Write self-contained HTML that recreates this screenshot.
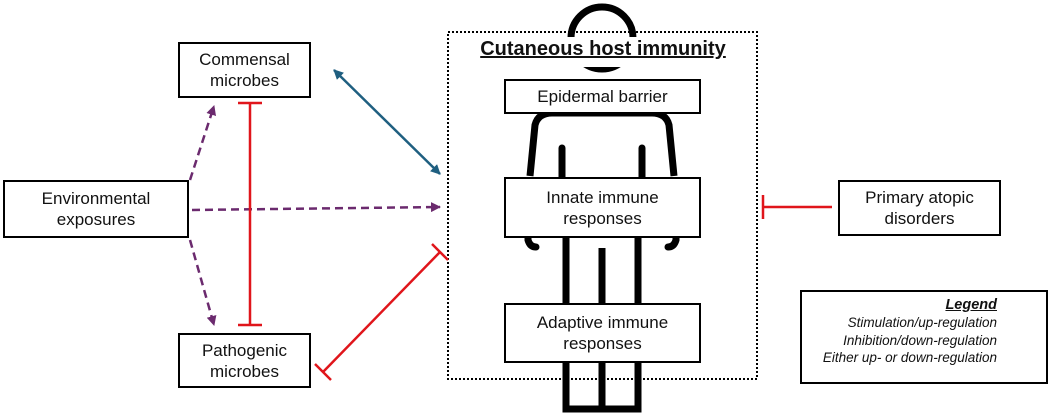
<!DOCTYPE html>
<html><head><style>
body{margin:0;width:1049px;height:417px;background:#fff;font-family:"Liberation Sans",sans-serif;position:relative;overflow:hidden}
.b{position:absolute;border:2.5px solid #000;background:#fff;box-sizing:border-box;display:flex;align-items:center;justify-content:center;text-align:center;font-size:17px;line-height:21px;color:#111}
</style></head><body>
<svg width="1049" height="417" style="position:absolute;left:0;top:0">
<defs>
<marker id="bl" markerWidth="10" markerHeight="10" refX="9" refY="5" orient="auto-start-reverse" markerUnits="userSpaceOnUse"><path d="M0,0L10,5L0,10z" fill="#1f5f80"/></marker>
<marker id="pu" markerWidth="10" markerHeight="10" refX="9" refY="5" orient="auto" markerUnits="userSpaceOnUse"><path d="M0,0L10,5L0,10z" fill="#6b2a6e"/></marker>
</defs>
<circle cx="602" cy="38" r="31" fill="none" stroke="#000" stroke-width="7"/>
<path d="M530,176 L535,125 Q538,113 552,113 L652,113 Q666,113 669,125 L674,176" fill="none" stroke="#000" stroke-width="7"/>
<path d="M528,237 L528,240 Q530,247 536,247 M676,237 L676,240 Q674,247 668,247" fill="none" stroke="#000" stroke-width="7" stroke-linecap="round"/>
<line x1="562" y1="148" x2="562" y2="177" stroke="#000" stroke-width="7" stroke-linecap="round"/>
<line x1="642" y1="148" x2="642" y2="177" stroke="#000" stroke-width="7" stroke-linecap="round"/>
<path d="M566,237 L566,409 L638,409 L638,237" fill="none" stroke="#000" stroke-width="7"/>
<line x1="602" y1="248" x2="602" y2="409" stroke="#000" stroke-width="7"/>
<rect x="448" y="32" width="309" height="347" fill="none" stroke="#000" stroke-width="2" stroke-dasharray="2,2"/>
<rect x="463" y="37" width="280" height="30" fill="#fff"/>
<line x1="334" y1="70" x2="440" y2="174" stroke="#1f5f80" stroke-width="2.5" marker-start="url(#bl)" marker-end="url(#bl)"/>
<line x1="192" y1="210" x2="440" y2="207" stroke="#6b2a6e" stroke-width="2.5" stroke-dasharray="8,5" marker-end="url(#pu)"/>
<line x1="190" y1="180" x2="214" y2="106" stroke="#6b2a6e" stroke-width="2.5" stroke-dasharray="8,5" marker-end="url(#pu)"/>
<line x1="190" y1="240" x2="214" y2="325" stroke="#6b2a6e" stroke-width="2.5" stroke-dasharray="8,5" marker-end="url(#pu)"/>
<g stroke="#e0151b" stroke-width="2.5">
<line x1="250" y1="103" x2="250" y2="325"/><line x1="238" y1="103" x2="262" y2="103"/><line x1="238" y1="325" x2="262" y2="325"/>
<line x1="323" y1="372" x2="440" y2="252"/><line x1="315" y1="364" x2="331" y2="380"/><line x1="432" y1="244" x2="448" y2="260"/>
<line x1="832" y1="207" x2="763" y2="207"/><line x1="763" y1="195" x2="763" y2="219"/>
<line x1="1003" y1="341" x2="1030" y2="341"/><line x1="1030" y1="332" x2="1030" y2="350"/>
</g>
<line x1="1003" y1="323" x2="1030" y2="323" stroke="#1f5f80" stroke-width="2" marker-end="url(#bl)"/>
<line x1="1003" y1="357" x2="1030" y2="357" stroke="#6b2a6e" stroke-width="2" stroke-dasharray="5,3" marker-end="url(#pu)"/>
</svg>
<div style="position:absolute;left:463px;top:38px;width:280px;text-align:center;font-weight:bold;font-size:20px;text-decoration:underline;color:#111">Cutaneous host immunity</div>
<div class="b" style="left:504px;top:79px;width:197px;height:35px">Epidermal barrier</div>
<div class="b" style="left:504px;top:177px;width:197px;height:61px">Innate immune<br>responses</div>
<div class="b" style="left:504px;top:303px;width:197px;height:60px">Adaptive immune<br>responses</div>
<div class="b" style="left:178px;top:42px;width:133px;height:56px">Commensal<br>microbes</div>
<div class="b" style="left:3px;top:180px;width:186px;height:58px">Environmental<br>exposures</div>
<div class="b" style="left:178px;top:333px;width:133px;height:55px">Pathogenic<br>microbes</div>
<div class="b" style="left:838px;top:180px;width:163px;height:56px">Primary atopic<br>disorders</div>
<div class="b" style="left:800px;top:290px;width:248px;height:94px;border-width:2px"></div>
<div style="position:absolute;left:800px;top:296px;width:197px;text-align:right;font-style:italic;font-size:13.5px;line-height:17.3px;color:#111;white-space:nowrap"><b style="text-decoration:underline;font-size:14.5px">Legend</b><br>Stimulation/up-regulation<br>Inhibition/down-regulation<br>Either up- or down-regulation</div>
</body></html>
